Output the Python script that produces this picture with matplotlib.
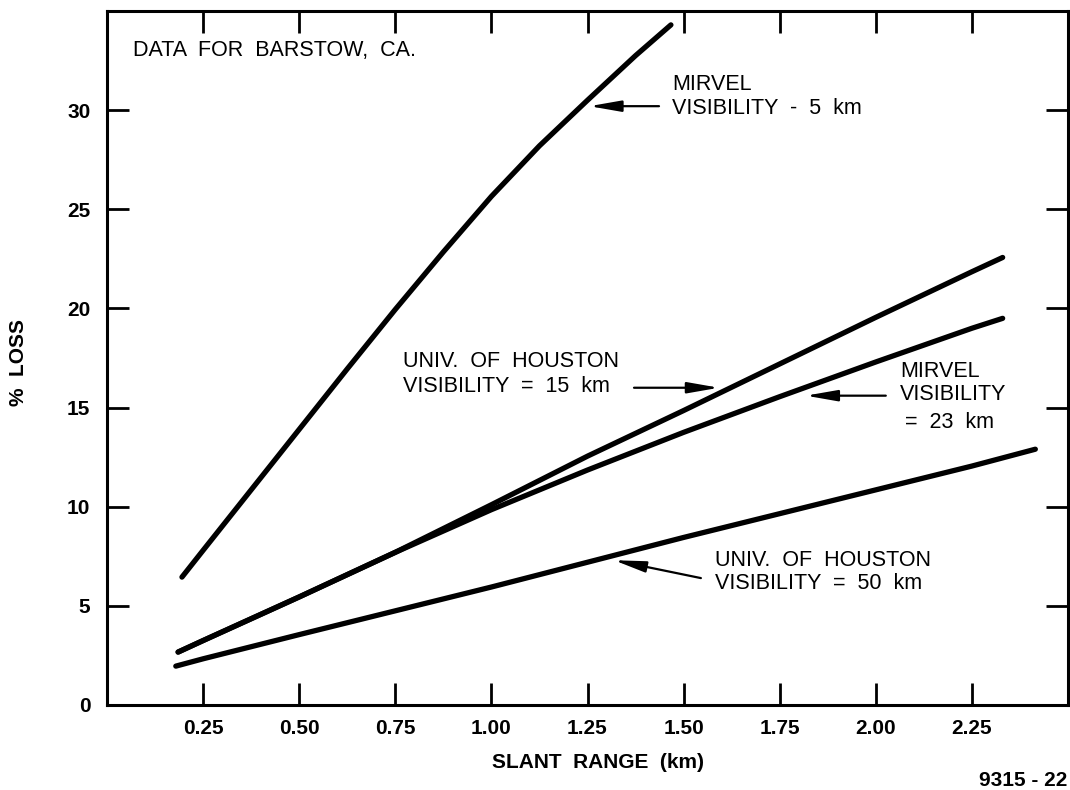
import matplotlib
matplotlib.use("Agg")
import matplotlib.pyplot as plt

plt.rcParams['font.family'] = ['Liberation Sans', 'DejaVu Sans']

# ---- data ----
x_m5 = [0.195, 0.25, 0.375, 0.5, 0.625, 0.75, 0.875, 1.0, 1.125, 1.25, 1.375, 1.467]
y_m5 = [6.45, 7.8, 10.85, 13.9, 16.95, 19.95, 22.85, 25.65, 28.2, 30.5, 32.75, 34.3]

x_uh15 = [0.185, 0.25, 0.5, 0.75, 1.0, 1.25, 1.5, 1.75, 2.0, 2.25, 2.33]
y_uh15 = [2.67, 3.25, 5.45, 7.7, 10.1, 12.55, 14.85, 17.2, 19.55, 21.85, 22.57]

x_m23 = [0.185, 0.25, 0.5, 0.75, 1.0, 1.25, 1.5, 1.75, 2.0, 2.25, 2.33]
y_m23 = [2.67, 3.25, 5.45, 7.7, 9.85, 11.85, 13.75, 15.55, 17.3, 19.0, 19.5]

x_uh50 = [0.179, 0.25, 0.5, 0.75, 1.0, 1.25, 1.5, 1.75, 2.0, 2.25, 2.415]
y_uh50 = [1.96, 2.33, 3.55, 4.75, 5.95, 7.2, 8.45, 9.65, 10.85, 12.05, 12.9]

x_ticks = [0.25, 0.50, 0.75, 1.00, 1.25, 1.50, 1.75, 2.00, 2.25]
x_tick_labels = ["0.25", "0.50", "0.75", "1.00", "1.25", "1.50", "1.75", "2.00", "2.25"]
y_ticks = [0, 5, 10, 15, 20, 25, 30]
y_tick_labels = ["0", "5", "10", "15", "20", "25", "30"]

W, H = 1070, 790
fig = plt.figure(figsize=(W / 100, H / 100), dpi=100)
fig.patch.set_facecolor('white')
ax = fig.add_axes([107 / W, 1 - 705 / H, (1068 - 107) / W, (705 - 11) / H])

lw = 3.8
for xs, ys in [(x_m5, y_m5), (x_uh15, y_uh15), (x_m23, y_m23), (x_uh50, y_uh50)]:
    ax.plot(xs, ys, color='black', lw=lw, solid_capstyle='round', solid_joinstyle='round')

ax.set_xlim(0, 2.5)
ax.set_ylim(0, 35)
ax.set_xticks(x_ticks)
ax.set_xticklabels(x_tick_labels)
ax.set_yticks(y_ticks)
ax.set_yticklabels(y_tick_labels)
for s in ax.spines.values():
    s.set_linewidth(2.2)
ax.tick_params(direction='in', length=16, width=2.0, top=True, right=True,
               labelsize=15, colors='black')
ax.tick_params(axis='x', pad=10)
ax.tick_params(axis='y', pad=12)
for lab in ax.get_xticklabels() + ax.get_yticklabels():
    lab.set_fontweight('bold')

fs = 15.5
ax.text(0.068, 33.03, "DATA  FOR  BARSTOW,  CA.", fontsize=fs, ha='left', va='center')
ax.text(1.47, 30.68, "MIRVEL\nVISIBILITY  -  5  km", fontsize=fs, ha='left', va='center',
        linespacing=1.2)
ax.text(0.77, 16.69, "UNIV.  OF  HOUSTON\nVISIBILITY  =  15  km", fontsize=fs, ha='left',
        va='center', linespacing=1.2)
ax.text(2.063, 16.24, "MIRVEL\nVISIBILITY", fontsize=fs, ha='left', va='center', linespacing=1.1)
ax.text(2.076, 14.27, "=  23  km", fontsize=fs, ha='left', va='center')
ax.text(1.582, 6.71, "UNIV.  OF  HOUSTON\nVISIBILITY  =  50  km", fontsize=fs, ha='left',
        va='center', linespacing=1.1)

arrow_kw = dict(arrowstyle='-|>,head_length=1.6,head_width=0.28', color='black', lw=1.6,
                shrinkA=0, shrinkB=0, mutation_scale=12)
arrows = [((1.436, 30.2), (1.255, 30.2)),
          ((1.371, 16.0), (1.592, 16.0)),
          ((2.026, 15.6), (1.818, 15.6)),
          ((1.545, 6.4), (1.319, 7.3))]
for tail, tip in arrows:
    ax.annotate("", xy=tip, xytext=tail, xycoords='data', textcoords='data', arrowprops=arrow_kw)

fig.text(598 / W, 1 - 763 / H, "SLANT  RANGE  (km)", fontsize=15, fontweight='bold',
         ha='center', va='center')
fig.text(18 / W, 1 - 363 / H, "%  LOSS", fontsize=15, fontweight='bold', rotation=90,
         ha='center', va='center')
fig.text(1067 / W, 1 - 780 / H, "9315 - 22", fontsize=15, fontweight='bold',
         ha='right', va='center')

fig.savefig("out.png", dpi=100, facecolor='white')
